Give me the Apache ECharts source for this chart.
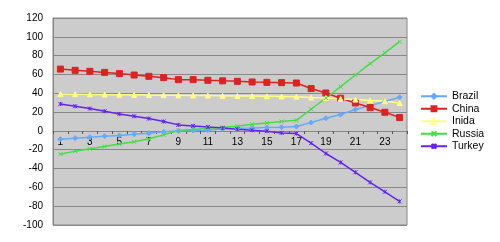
<!DOCTYPE html>
<html>
<head>
<meta charset="utf-8">
<script src="https://cdn.jsdelivr.net/npm/echarts@6/dist/echarts.min.js"></script>
<style>
  html, body { margin: 0; padding: 0; background: #fff; }
  #main { width: 500px; height: 242px; }
</style>
</head>
<body>
<div id="main"></div>
<script>
// categories 1..24
var categories = ['1','2','3','4','5','6','7','8','9','10','11','12','13','14','15','16','17','18','19','20','21','22','23','24'];

var brazil = [-8.8,-7.7,-6.7,-5.6,-4.9,-3.5,-2.4,-1,0,0.4,1,2,2.9,3.2,3.6,3.9,4.6,8.9,13.5,17.4,22.7,26.9,31.2,35.7];
var china  = [65.7,64.4,63.3,62.2,60.9,59.4,58,56.6,54.5,54.5,53.8,53.2,52.7,52,51.6,51.3,50.9,45,40.3,34.7,29.7,24.8,19.8,14.2];
var india  = [39.2,39,38.8,38.6,38.5,38.3,38.1,38,37.8,37.7,37.6,37.3,37.2,37,36.8,36.6,36.4,35.4,35,34,33.3,32.2,31.5,29.7];
var russia = [-24.7,-21.5,-19,-16.6,-14,-11.6,-8.4,-4.2,0.5,1.5,2.8,3.9,5,7.1,8.5,10,11.3,23,35,47,59.4,71.5,83,94.8];
var turkey = [28.6,26.2,23.7,20.9,18,15.6,13.1,10,6.4,5.3,4.2,3,1.8,0.7,-0.3,-2.1,-2.8,-13,-24,-33.5,-44,-54.7,-64.7,-74.9];

var chart = echarts.init(document.getElementById('main'), null, { renderer: 'canvas' });

var crossPath = 'path://M0,0L10,10M10,0L0,10';
var starPath = 'path://M0,0L10,10M10,0L0,10M5,0L5,10';

function line(name, data, color, symbol, size) {
  return {
    name: name,
    type: 'line',
    data: data,
    symbol: symbol,
    symbolSize: size,
    showSymbol: true,
    animation: false,
    lineStyle: { color: color, width: 1.5 },
    itemStyle: { color: color, borderColor: color, borderWidth: 1 }
  };
}

var option = {
  backgroundColor: '#ffffff',
  textStyle: { fontFamily: 'Liberation Sans, Arial, sans-serif' },
  grid: {
    left: 53, right: 93, top: 18, bottom: 17,
    show: true,
    backgroundColor: '#cccccc',
    borderColor: '#888888',
    borderWidth: 1
  },
  legend: {
    orient: 'vertical',
    left: 420,
    top: 90,
    padding: 0,
    itemWidth: 26,
    itemHeight: 6,
    itemGap: 0,
    textStyle: { fontSize: 10.5, color: '#000', lineHeight: 12.5 },
    data: ['Brazil', 'China', 'Inida', 'Russia', 'Turkey']
  },
  xAxis: {
    type: 'category',
    data: categories,
    boundaryGap: true,
    position: 'bottom',
    // move the axis (line, ticks, labels) up to the zero line
    offset: -94,
    axisLine: { show: true, onZero: false, lineStyle: { color: '#888888', width: 1 } },
    axisTick: { show: true, interval: 0, length: 3, lineStyle: { color: '#555' } },
    axisLabel: { interval: 1, fontSize: 10, color: '#000', margin: 6 },
    splitLine: { show: false }
  },
  yAxis: {
    type: 'value',
    min: -100,
    max: 120,
    interval: 20,
    axisLine: { show: true, lineStyle: { color: '#888888' } },
    axisTick: { show: false },
    axisLabel: { fontSize: 10, color: '#000', margin: 10 },
    splitLine: { show: true, lineStyle: { color: '#888888', width: 1 } }
  },
  series: [
    line('Brazil', brazil, '#66aaff', 'diamond', 5),
    line('China', china, '#dd2222', 'rect', 6),
    line('Inida', india, '#ffff88', 'triangle', 5),
    line('Russia', russia, '#44dd44', crossPath, 4),
    line('Turkey', turkey, '#6622ee', starPath, 4)
  ]
};

chart.setOption(option);
</script>
</body>
</html>
